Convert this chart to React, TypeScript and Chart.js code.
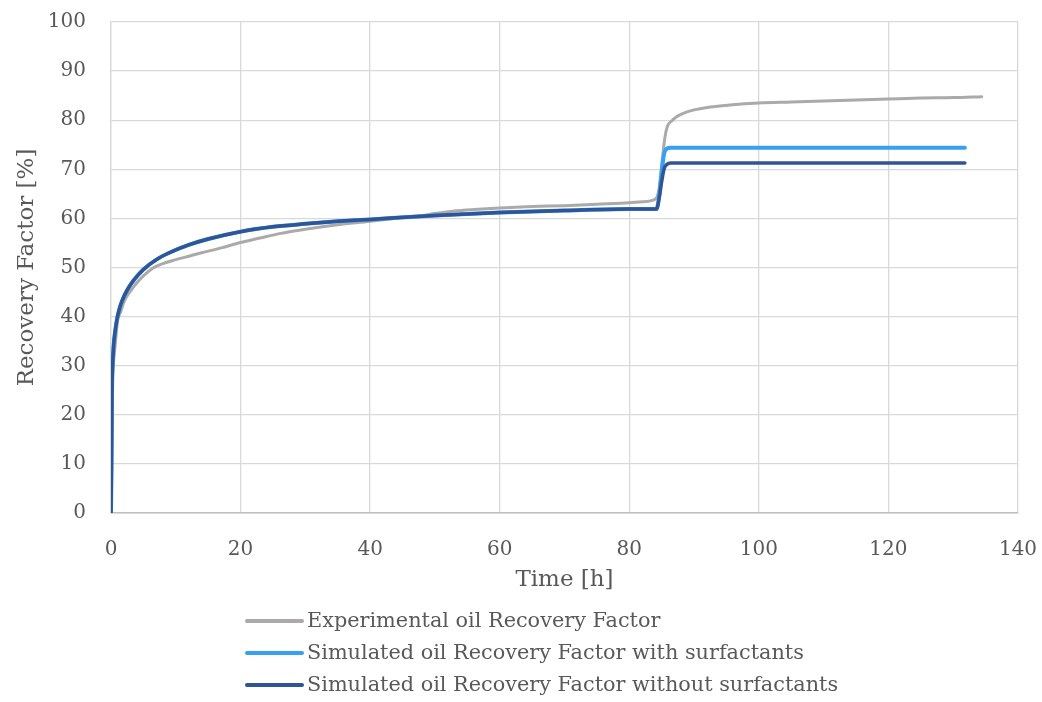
import { useEffect, useRef } from "react";
import { Chart, registerables } from "chart.js";

Chart.register(...registerables);

// Experimental core-flood recovery (time in hours, recovery factor in %)
const expTime = [
  0, 0.1, 0.2, 0.4, 0.7, 1, 1.5, 2, 3, 4, 5, 6.5, 8, 10, 12, 14, 17, 20, 23, 26,
  30, 35, 40, 45, 48, 50, 53, 56, 60, 65, 70, 75, 80, 82, 84, 84.6, 85.1, 85.5,
  85.9, 86.5, 87.3, 88.5, 90, 92.5, 95.5, 100, 105, 110, 115, 120, 125, 130, 134.4,
];
const expRF = [
  0, 14, 27, 31, 35, 39, 41, 43, 45.2, 46.9, 48.3, 49.9, 50.8, 51.6, 52.3, 53, 54,
  55.1, 56, 56.9, 57.8, 58.7, 59.4, 60.2, 60.6, 61.0, 61.5, 61.8, 62.1, 62.4, 62.6,
  62.9, 63.2, 63.4, 63.9, 66, 72, 76.5, 78.8, 79.8, 80.7, 81.5, 82.1, 82.7, 83.1,
  83.5, 83.7, 83.9, 84.1, 84.3, 84.5, 84.6, 84.8,
];

// Simulation output (shared time base for both runs)
const simTime = [
  0, 0.08, 0.15, 0.25, 0.4, 0.6, 0.9, 1.3, 1.8, 2.5, 3.5, 5, 7, 9, 12, 15, 20, 25,
  30, 35, 40, 50, 60, 70, 80, 84.2, 84.6, 85.0, 85.4, 85.8, 86.4, 131.8,
];
const simWithRF = [
  0, 10, 24, 30, 34, 36.6, 39.3, 41.6, 43.5, 45.4, 47.4, 49.6, 51.6, 53, 54.6,
  55.8, 57.3, 58.3, 58.9, 59.4, 59.8, 60.6, 61.2, 61.6, 61.9, 61.9, 64.5, 69.5,
  73.3, 74.2, 74.4, 74.4,
];
const simWithoutRF = [
  0, 10, 24, 30, 34, 36.6, 39.3, 41.6, 43.5, 45.4, 47.4, 49.6, 51.6, 53, 54.6,
  55.8, 57.3, 58.3, 58.9, 59.4, 59.8, 60.6, 61.2, 61.6, 61.9, 61.9, 64.0, 67.5,
  70.2, 71.0, 71.3, 71.3,
];

const seriesLabels = [
  "Experimental oil Recovery Factor",
  "Simulated oil Recovery Factor with surfactants",
  "Simulated oil Recovery Factor without surfactants",
];
const seriesColors = ["#aba9a9", "#38a0f2", "#2f5597"];
const seriesWidths = [3, 4, 3.5];

const xAxisTitle = "Time [h]";
const yAxisTitle = "Recovery Factor [%]";

const FONT = "'DejaVu Serif', serif";
const TEXT = "#595959";

const toPoints = (xs: number[], ys: number[]) => xs.map((x, i) => ({ x, y: ys[i] }));

// Legend drawn as a single column under the x-axis title
const stackedLegend = {
  id: "stackedLegend",
  afterDraw(chart: Chart) {
    const { ctx } = chart;
    const lineStart = 247;
    const lineEnd = 302;
    const textX = 307;
    const firstRow = 621;
    const rowStep = 32;
    ctx.save();
    ctx.font = `20.8px ${FONT}`;
    ctx.fillStyle = TEXT;
    ctx.textBaseline = "middle";
    ctx.textAlign = "left";
    ctx.lineCap = "round";
    seriesLabels.forEach((label, i) => {
      const y = firstRow + i * rowStep;
      ctx.strokeStyle = seriesColors[i];
      ctx.lineWidth = 4;
      ctx.beginPath();
      ctx.moveTo(lineStart, y);
      ctx.lineTo(lineEnd, y);
      ctx.stroke();
      ctx.fillText(label, textX, y + 1);
    });
    ctx.restore();
  },
};

export default function App() {
  const canvasRef = useRef<HTMLCanvasElement | null>(null);

  useEffect(() => {
    if (!canvasRef.current) return;
    const common = {
      pointRadius: 0,
      fill: false,
      cubicInterpolationMode: "monotone" as const,
      borderCapStyle: "round" as const,
      borderJoinStyle: "round" as const,
    };
    const chart = new Chart(canvasRef.current, {
      type: "line",
      data: {
        datasets: [
          {
            ...common,
            label: seriesLabels[0],
            data: toPoints(expTime, expRF),
            borderColor: seriesColors[0],
            borderWidth: seriesWidths[0],
            order: 2,
          },
          {
            ...common,
            label: seriesLabels[1],
            data: toPoints(simTime, simWithRF),
            borderColor: seriesColors[1],
            borderWidth: seriesWidths[1],
            order: 1,
          },
          {
            ...common,
            label: seriesLabels[2],
            data: toPoints(simTime, simWithoutRF),
            borderColor: seriesColors[2],
            borderWidth: seriesWidths[2],
            order: 0,
          },
        ],
      },
      options: {
        animation: false,
        responsive: true,
        maintainAspectRatio: false,
        layout: { padding: { top: 22, right: 24, bottom: 107, left: 0 } },
        plugins: {
          legend: { display: false },
          tooltip: { enabled: false },
        },
        scales: {
          x: {
            type: "linear",
            min: 0,
            max: 140,
            afterFit: (scale: any) => {
              scale.height = 82;
              scale.paddingLeft = 0;
              scale.paddingRight = 0;
            },
            ticks: {
              stepSize: 20,
              color: TEXT,
              font: { family: FONT, size: 20 },
              padding: 25,
              maxRotation: 0,
            },
            grid: { color: "#d9d9d9", lineWidth: 1.3, drawTicks: false },
            border: { color: "#bfbfbf", width: 1.5 },
            title: {
              display: true,
              text: xAxisTitle,
              color: TEXT,
              font: { family: FONT, size: 23 },
              padding: { top: 0, bottom: 1 },
            },
          },
          y: {
            min: 0,
            max: 100,
            afterFit: (scale: any) => {
              scale.width = 111;
              scale.paddingTop = 0;
              scale.paddingBottom = 0;
            },
            ticks: {
              stepSize: 10,
              color: TEXT,
              font: { family: FONT, size: 20 },
              padding: 25,
            },
            grid: { color: "#d9d9d9", lineWidth: 1.3, drawTicks: false },
            border: { color: "#d9d9d9", width: 1.3 },
            title: {
              display: true,
              text: yAxisTitle,
              color: TEXT,
              font: { family: FONT, size: 23 },
              padding: { top: 13, bottom: 0 },
            },
          },
        },
      },
      plugins: [stackedLegend],
    });
    return () => chart.destroy();
  }, []);

  return (
    <div
      style={{
        position: "absolute",
        left: 0,
        top: 0,
        width: 1042,
        height: 702,
        background: "#ffffff",
      }}
    >
      <canvas ref={canvasRef} />
    </div>
  );
}
